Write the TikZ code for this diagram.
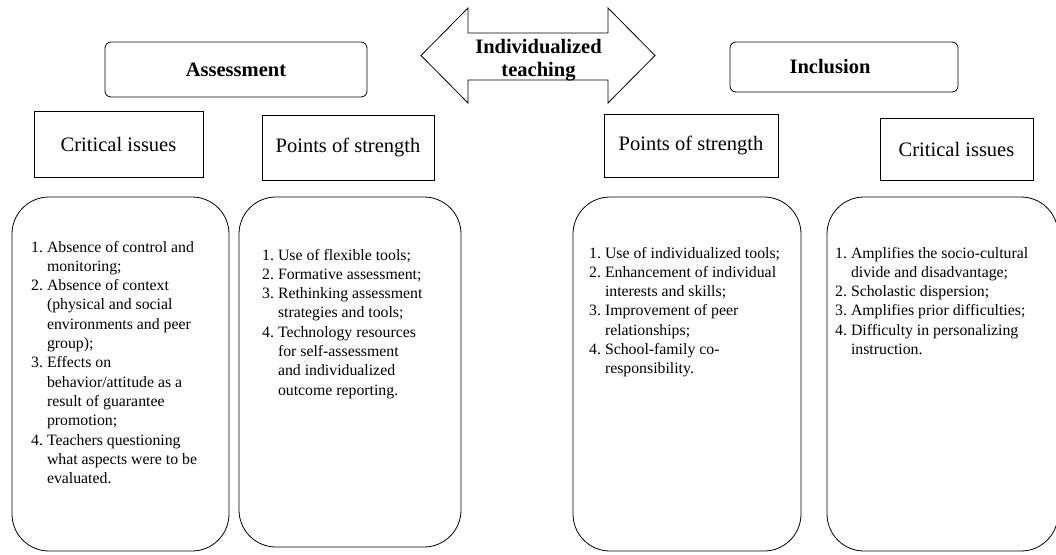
\documentclass[tikz,border=0pt]{standalone}
\usepackage{fontspec}
\setmainfont{Liberation Serif}
\newcommand{\listfont}{\fontsize{15.8}{19.3}\selectfont}
\newcommand{\headfont}{\fontsize{20.5}{23.5}\selectfont}

\begin{document}
\begin{tikzpicture}[x=1pt,y=-1pt]
    \tikzstyle{title} = [draw, line width=0.8pt, rounded corners=6pt, font=\headfont\bfseries]
    \tikzstyle{head} = [rectangle, draw, line width=0.6pt, font=\headfont, inner sep=0pt]
    \tikzstyle{card} = [rectangle, draw, line width=0.8pt, rounded corners=37pt, inner sep=0pt]
    \tikzstyle{items} = [anchor=base west, inner sep=0pt, font=\listfont]

    \useasboundingbox (0,0) rectangle (1056,554);

    % double arrow in the middle
    \draw [line width=0.8pt] (421,55.5) -- (468,8) -- (468,33) -- (608,33) -- (608,8)
        -- (655,55.5) -- (608,103) -- (608,80) -- (468,80) -- (468,103) -- cycle;
    \node [font=\headfont\bfseries, align=center, inner sep=0pt] (teach) at (538.5,60) {Individualized\\teaching};

    % the two themes
    \node [title, minimum width=262pt, minimum height=55pt] (assess) at (236,69.5) {Assessment};
    \node [title, minimum width=228pt, minimum height=50pt] (inclbox) at (844,67) {};
    \node [font=\headfont\bfseries, inner sep=0pt] (incl) at ([xshift=-14pt]inclbox.center) {Inclusion};
    %
    \node [head, minimum width=169pt, minimum height=66pt] (critA) at (118.5,144) {Critical issues};
    \node [head, minimum width=172pt, minimum height=65pt] (strA) at (348,147.5) {Points of strength};
    \node [head, minimum width=174pt, minimum height=63pt] (strB) at (691,145.5) {Points of strength};
    \node [head, minimum width=153pt, minimum height=62pt] (critB) at (956.5,149) {Critical issues};
    %
    \node [card, minimum width=217pt, minimum height=354pt] (cardA) at (120.5,374) {};
    \node [card, minimum width=222pt, minimum height=350pt] (cardB) at (350,372) {};
    \node [card, minimum width=228pt, minimum height=354pt] (cardC) at (687,374) {};
    \node [card, minimum width=231pt, minimum height=354pt] (cardD) at (942.5,374) {};

    % the lists
    \node [items] (listA) at (31,252) {\begin{tabular}[t]{@{}l@{\ }l@{}}
        1. & Absence of control and\\
           & monitoring;\\
        2. & Absence of context\\
           & (physical and social\\
           & environments and peer\\
           & group);\\
        3. & Effects on\\
           & behavior/attitude as a\\
           & result of guarantee\\
           & promotion;\\
        4. & Teachers questioning\\
           & what aspects were to be\\
           & evaluated.
    \end{tabular}};
    \node [items] (listB) at (262,260) {\begin{tabular}[t]{@{}l@{\ }l@{}}
        1. & Use of flexible tools;\\
        2. & Formative assessment;\\
        3. & Rethinking assessment\\
           & strategies and tools;\\
        4. & Technology resources\\
           & for self-assessment\\
           & and individualized\\
           & outcome reporting.
    \end{tabular}};
    \node [items] (listC) at (589,258) {\begin{tabular}[t]{@{}l@{\ }l@{}}
        1. & Use of individualized tools;\\
        2. & Enhancement of individual\\
           & interests and skills;\\
        3. & Improvement of peer\\
           & relationships;\\
        4. & School-family co-\\
           & responsibility.
    \end{tabular}};
    \node [items] (listD) at (835,258) {\begin{tabular}[t]{@{}l@{\ }l@{}}
        1. & Amplifies the socio-cultural\\
           & divide and disadvantage;\\
        2. & Scholastic dispersion;\\
        3. & Amplifies prior difficulties;\\
        4. & Difficulty in personalizing\\
           & instruction.
    \end{tabular}};

\end{tikzpicture}
\end{document}
